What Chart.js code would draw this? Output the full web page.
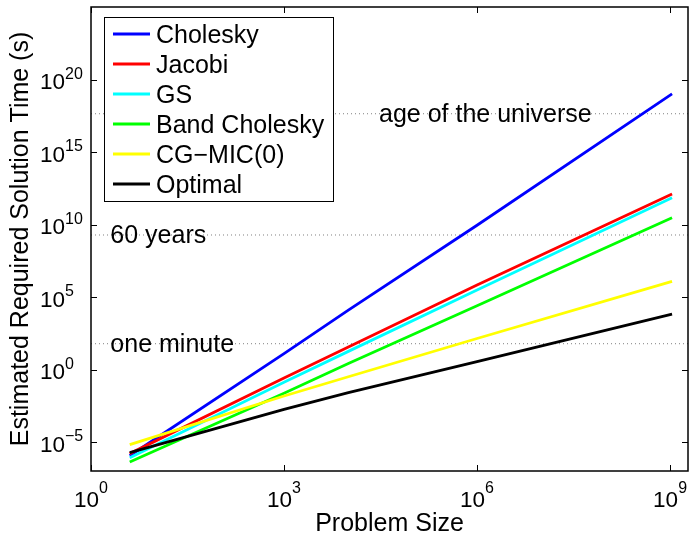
<!DOCTYPE html>
<html><head><meta charset="utf-8">
<script src="https://cdn.jsdelivr.net/npm/chart.js@4/dist/chart.umd.min.js"></script>
<style>html,body{margin:0;padding:0;background:#fff;overflow:hidden;}canvas{display:block;}</style>
</head><body>
<canvas id="c" width="690" height="534"></canvas>
<script>
// ---- data ----
const problemSizes = [4, 1000, 10000, 1000000, 1073741824];
const seriesNames = ["Cholesky", "Jacobi", "GS", "Band Cholesky", "CG\u2212MIC(0)", "Optimal"];
const cholesky     = [1.12e-6, 12.3,    1.26e4, 8.9e9,  1.02e19];
const jacobi       = [1.58e-6, 0.257,   35.5,   6.76e5, 1.29e12];
const gs           = [8.3e-7,  0.132,   17.8,   3.02e5, 7.08e11];
const bandCholesky = [4.17e-7, 0.0229,  2.57,   2.51e4, 2.95e10];
const cgMic0       = [6.6e-6,  0.0148,  0.316,  138,    1.2e6];
const optimal      = [1.86e-6, 1.78e-3, 0.0251, 3.55,   6610];
const seriesColors = ["#0000ff", "#ff0000", "#00ffff", "#00ff00", "#ffff00", "#000000"];
const refNames  = ["one minute", "60 years", "age of the universe"];
const refValues = [60, 1.89e9, 4.35e17];
const refLabelX = [2, 2, 3e4];
const xTickExponents = [0, 3, 6, 9];
const yTickExponents = [-5, 0, 5, 10, 15, 20];
const xRange = [1, 1.9e9];
const yRange = [1e-7, 1e25];
const xTitle = "Problem Size";
const yTitle = "Estimated Required Solution Time (s)";

const FONT = '"Liberation Sans", Arial, Helvetica, sans-serif';
const TEXT_PX = 25;
const allSeries = [cholesky, jacobi, gs, bandCholesky, cgMic0, optimal];

const datasets = [];
allSeries.forEach((vals, i) => {
  datasets.push({
    label: seriesNames[i],
    data: problemSizes.map((x, k) => ({x: x, y: vals[k]})),
    borderColor: seriesColors[i],
    backgroundColor: seriesColors[i],
    borderWidth: 2.8,
    pointRadius: 0,
    fill: false,
    tension: 0,
    order: allSeries.length - i
  });
});
refValues.forEach((v, i) => {
  datasets.push({
    label: refNames[i],
    data: [{x: xRange[0], y: v}, {x: xRange[1], y: v}],
    borderColor: "#808080",
    borderWidth: 1,
    borderDash: [1, 3],
    pointRadius: 0,
    fill: false,
    order: 100
  });
});

function drawPow(ctx, x, y10, yExp, exp, mode) {
  const base = "10";
  const ex = String(exp).replace("-", "\u2212");
  ctx.font = "22.5px " + FONT;
  const wb = ctx.measureText(base).width;
  ctx.font = "16px " + FONT;
  const we = ctx.measureText(ex).width;
  let sx = mode === "center" ? x - (wb + we) / 2 : x;
  ctx.textAlign = "left";
  ctx.textBaseline = "alphabetic";
  ctx.font = "22.5px " + FONT;
  ctx.fillText(base, sx, y10);
  ctx.font = "16px " + FONT;
  ctx.fillText(ex, sx + wb, yExp);
}

const decor = {
  id: "decor",
  afterDatasetsDraw(chart) {
    const ctx = chart.ctx;
    const a = chart.chartArea;
    const xs = chart.scales.x, ys = chart.scales.y;
    ctx.save();
    ctx.fillStyle = "#000";
    ctx.strokeStyle = "#000";
    // reference labels
    ctx.font = TEXT_PX + "px " + FONT;
    ctx.textAlign = "left";
    ctx.textBaseline = "alphabetic";
    refNames.forEach((t, i) => {
      ctx.fillText(t, xs.getPixelForValue(refLabelX[i]), ys.getPixelForValue(refValues[i]) + 8.5);
    });
    // box
    ctx.lineWidth = 1.5;
    ctx.strokeRect(a.left, a.top, a.right - a.left, a.bottom - a.top);
    // ticks inward
    ctx.lineWidth = 1;
    ctx.beginPath();
    xTickExponents.forEach(e => {
      const px = Math.round(xs.getPixelForValue(Math.pow(10, e))) + 0.5;
      ctx.moveTo(px, a.bottom); ctx.lineTo(px, a.bottom - 6);
      ctx.moveTo(px, a.top); ctx.lineTo(px, a.top + 6);
    });
    yTickExponents.forEach(e => {
      const py = Math.round(ys.getPixelForValue(Math.pow(10, e))) + 0.5;
      ctx.moveTo(a.left, py); ctx.lineTo(a.left + 6, py);
      ctx.moveTo(a.right, py); ctx.lineTo(a.right - 6, py);
    });
    ctx.stroke();
    // tick labels
    xTickExponents.forEach(e => {
      const px = xs.getPixelForValue(Math.pow(10, e));
      drawPow(ctx, px, 507, 493, e, "center");
    });
    yTickExponents.forEach(e => {
      const py = ys.getPixelForValue(Math.pow(10, e));
      drawPow(ctx, 40, py + 9.5, py - 1, e, "left");
    });
    // axis titles
    ctx.font = TEXT_PX + "px " + FONT;
    ctx.textAlign = "center";
    ctx.textBaseline = "alphabetic";
    ctx.fillText(xTitle, (a.left + a.right) / 2, 531);
    ctx.save();
    ctx.translate(27.5, (a.top + a.bottom) / 2);
    ctx.rotate(-Math.PI / 2);
    ctx.fillText(yTitle, 0, 0);
    ctx.restore();
    // legend
    const lx0 = 104.5, ly0 = 17.5, lx1 = 333.5, ly1 = 201.5;
    ctx.fillStyle = "#fff";
    ctx.fillRect(lx0, ly0, lx1 - lx0, ly1 - ly0);
    ctx.strokeStyle = "#000";
    ctx.lineWidth = 1;
    ctx.strokeRect(lx0, ly0, lx1 - lx0, ly1 - ly0);
    ctx.font = TEXT_PX + "px " + FONT;
    ctx.textAlign = "left";
    seriesNames.forEach((name, i) => {
      const cy = 34 + i * 30;
      ctx.strokeStyle = seriesColors[i];
      ctx.lineWidth = 2.8;
      ctx.beginPath();
      ctx.moveTo(113, cy); ctx.lineTo(150, cy);
      ctx.stroke();
      ctx.fillStyle = "#000";
      ctx.fillText(name, 156, cy + 8.5);
    });
    ctx.restore();
  }
};

new Chart(document.getElementById("c"), {
  type: "line",
  data: {datasets: datasets},
  options: {
    responsive: false,
    animation: false,
    devicePixelRatio: 1,
    layout: {padding: {top: 7, right: 2, left: 0, bottom: 0}},
    plugins: {legend: {display: false}, tooltip: {enabled: false}},
    scales: {
      x: {
        type: "logarithmic", min: xRange[0], max: xRange[1],
        ticks: {display: false}, grid: {display: false}, border: {display: false},
        afterFit: s => { s.height = 63; }
      },
      y: {
        type: "logarithmic", min: yRange[0], max: yRange[1],
        ticks: {display: false}, grid: {display: false}, border: {display: false},
        afterFit: s => { s.width = 91; }
      }
    }
  },
  plugins: [decor]
});
</script>
</body></html>
